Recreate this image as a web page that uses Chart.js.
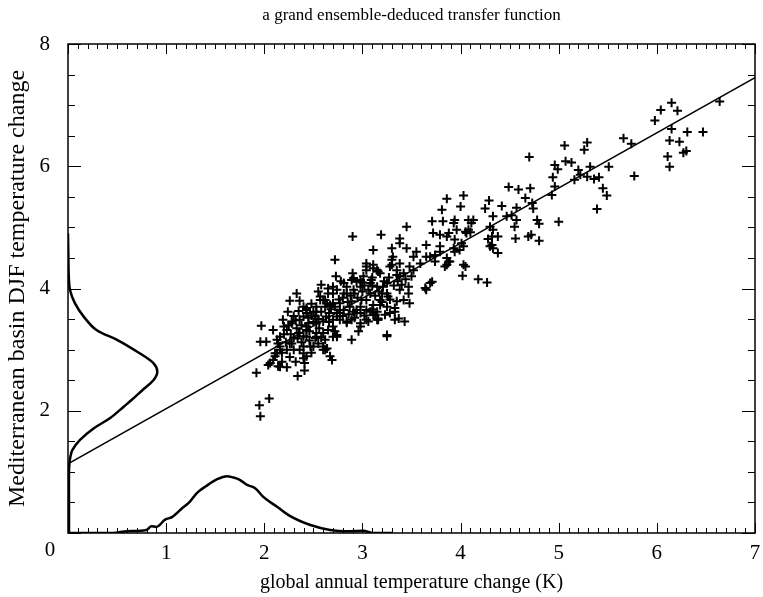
<!DOCTYPE html>
<html>
<head>
<meta charset="utf-8">
<script src="https://cdn.jsdelivr.net/npm/chart.js@4.4.1/dist/chart.umd.min.js"></script>
<style>
body { margin: 0; background: #fff; }
</style>
</head>
<body>
<canvas id="chart" width="763" height="597"></canvas>
<script>
// ensemble members: [global annual dT, Mediterranean DJF dT]
const ensembleMembers = [
    [6.64,7.06],[6.15,7.04],[6.04,6.92],[6.21,6.91],[5.98,6.75],[6.15,6.61],[6.31,6.56],[6.47,6.56],
    [6.13,6.42],[6.23,6.40],[6.27,6.22],[6.30,6.25],[6.11,6.16],[6.13,5.99],[5.66,6.46],[5.74,6.37],
    [5.77,5.84],[5.06,6.34],[5.29,6.39],[5.26,6.27],[4.70,6.15],[4.96,6.02],[4.99,5.95],[5.07,6.08],
    [5.13,6.06],[5.20,5.94],[5.32,5.99],[5.51,5.99],[5.22,5.86],[5.29,5.83],[5.36,5.79],[5.41,5.82],
    [5.16,5.78],[4.94,5.82],[4.96,5.67],[4.93,5.53],[5.45,5.64],[5.49,5.52],[5.39,5.30],[5.00,5.09],
    [4.49,5.66],[4.59,5.62],[4.71,5.64],[4.66,5.48],[4.73,5.40],[4.74,5.31],[4.78,5.12],[4.80,5.06],
    [4.72,4.88],[4.69,4.85],[4.80,4.78],[4.56,4.82],[4.57,5.12],[4.52,5.20],[4.47,5.18],[4.55,5.01],
    [4.57,5.32],[4.42,5.35],[4.25,5.31],[4.29,5.44],[4.03,5.52],[4.00,5.34],[4.33,5.18],[4.30,5.01],
    [4.32,4.85],[4.38,4.85],[4.28,4.81],[4.30,4.69],[4.33,4.66],[4.38,4.58],[4.08,5.12],[4.11,5.07],
    [4.05,4.93],[4.10,4.92],[3.94,5.12],[3.96,4.96],[3.94,4.80],[4.01,4.74],[3.93,4.66],[3.99,4.63],
    [4.03,4.39],[4.02,4.21],[4.18,4.15],[4.27,4.10],[3.89,4.44],[4.13,5.12],[4.08,4.96],[3.86,4.85],
    [3.88,4.44],[3.84,4.36],[4.33,4.96],[4.32,4.71],
    [3.86,5.47],[3.81,5.29],[3.45,5.01],[3.19,4.88],[2.90,4.85],[3.11,4.63],[2.72,4.47],[2.73,4.20],
    [2.58,4.06],[2.33,3.92],[2.26,3.80],[2.91,4.17],[3.38,4.82],[3.30,4.66],[3.71,5.10],[3.82,5.10],
    [3.72,4.91],[3.79,4.88],[3.65,4.71],[3.55,4.60],[3.69,4.52],[3.79,4.60],[3.94,4.60],[4.03,4.69],
    [4.05,4.36],[3.86,4.39],[3.74,4.44],[3.69,4.09],[3.64,4.01],[3.38,4.74],[3.45,4.66],[3.52,4.52],
    [3.48,4.36],[3.38,4.41],[3.31,4.52],[3.28,4.36],[3.38,4.20],[3.42,4.25],[3.47,4.03],[3.48,3.76],
    [3.38,3.98],[3.35,3.79],[3.25,4.09],[3.18,4.25],[3.11,4.33],[3.04,4.36],[3.01,4.20],[3.09,4.14],
    [3.15,4.03],[3.20,3.92],[2.98,4.03],[2.91,3.98],[2.81,4.09],[2.84,3.92],[2.74,3.98],[2.65,3.92],
    [2.57,3.81],[2.67,3.73],[2.77,3.76],[2.89,3.79],[3.04,3.81],[3.11,3.73],[3.25,3.70],[3.33,3.62],
    [3.43,3.46],[3.25,3.22],[3.16,3.49],[3.08,3.62],[2.98,3.60],[2.89,3.49],[2.98,3.38],[2.89,3.16],
    [2.81,3.65],[2.74,3.54],[2.84,3.44],[2.74,3.21],[2.69,2.83],[2.62,3.00],[2.53,3.27],[2.60,3.46],
    [2.52,3.54],[2.43,3.60],[2.40,3.70],[2.45,3.43],[2.36,3.49],[2.35,3.27],[2.43,3.21],[2.47,3.05],
    [2.40,2.94],[2.28,3.43],[2.23,3.32],[2.19,3.49],[2.16,3.21],[2.23,3.00],[2.14,3.10],[2.11,2.94],
    [2.09,3.32],[1.97,3.39],[1.96,3.13],[2.02,3.13],[2.04,2.75],[2.16,2.72],
    [1.96,1.91],[1.95,2.09],[2.05,2.20],[1.92,2.62],[2.34,2.57],[2.41,2.66],[3.25,3.24],[2.14,2.73],
    [2.23,2.71],[2.18,2.80],[2.09,2.83],[2.40,2.86],[2.41,2.78],[2.28,3.46],[2.13,3.16],[2.16,3.05],
    [2.13,2.94],[2.26,3.10],[2.30,3.00],[2.36,3.00],[2.43,2.89],[2.50,3.05],[2.60,3.00],[2.53,3.21],
    [2.62,3.16],[2.43,3.32],[2.40,3.54],[2.43,3.68],[2.53,3.43],[2.65,3.32],[2.74,3.24],[2.70,3.49],
    [2.77,3.60],[2.84,3.46],[2.98,3.43],[3.06,3.46],[3.15,3.49],[2.60,3.81],[2.70,3.92],[2.84,4.03],
    [2.53,3.62],[2.94,3.65],[3.15,3.62],
    [3.65,3.98],[3.71,4.11],[3.37,3.51],[3.47,3.92],[3.40,4.06],[3.35,4.22],[3.30,4.39],[3.52,4.30],
    [3.59,4.41],[3.65,4.52],[3.74,4.55],[3.79,4.69],[3.86,4.50],[4.06,4.91],[3.93,5.07],[3.88,4.91],
    [3.11,4.39],[3.04,4.30],[3.16,4.28],[2.98,4.14],[2.89,4.14],[3.08,4.09],[3.21,4.03],[3.26,3.87],
    [3.18,3.81],[3.08,3.92],[2.99,3.81],[2.81,3.92],[2.70,4.03],[2.62,3.81],[2.70,3.76],[2.77,3.65],
    [2.87,3.70],[2.94,3.60],[3.04,3.65],[3.13,3.57],[3.23,3.57],[3.33,3.68],[2.77,3.49],[2.70,3.38],
    [2.63,3.54],[2.60,3.27],[2.70,3.21],[2.60,3.05],[2.67,2.89],[3.16,3.51],[3.42,3.81],
    [2.06,2.78],[2.11,2.89],[2.16,3.00],[2.36,3.27],[2.43,3.38],[2.40,3.05],[2.52,3.19],[2.64,3.02],
    [2.43,3.65],[2.53,3.70],[2.57,3.87],[2.64,3.76],[2.74,3.60],[2.91,3.62],[3.04,3.49],[2.98,3.70],
    [3.11,3.57],[3.18,3.73],[3.28,3.60],[3.33,3.49],[3.25,3.92],[2.94,4.11],[3.04,4.41],[3.15,4.30],
    [3.30,4.47],[3.35,4.30],
    [2.30,3.20],[2.33,3.35],[2.38,3.12],[2.46,3.30],[2.50,3.45],[2.56,3.35],[2.30,3.55],[2.24,3.62],
    [2.48,3.56],[2.35,3.63],[2.20,3.38],[2.27,3.25],
    [2.20,3.25],[2.25,3.40],[2.32,3.48],[2.38,3.40],[2.45,3.52],[2.50,3.62],[2.55,3.50],[2.58,3.62],
    [2.62,3.70],[2.66,3.60],[2.68,3.66],[2.72,3.70],[2.76,3.82],[2.80,3.85],[2.85,3.78],[2.88,3.88],
    [2.92,3.92],[2.95,3.85],[3.00,3.95],[3.02,4.05],[3.06,3.98],[3.10,4.05],[3.13,3.88],[3.17,3.95],
    [3.22,4.12],[3.27,4.18],[3.32,4.05],[3.36,4.12],[3.44,4.15],[3.50,4.20],[2.28,3.10],[2.34,3.18],
    [2.40,3.22],[2.46,3.15],[2.55,3.10],[2.58,3.20],[2.66,3.45],[2.72,3.30],[2.80,3.55],[2.86,3.58],
    [2.92,3.52],[2.96,3.30],[3.02,3.56],[3.10,3.66],[3.20,3.78],[3.28,3.82],[2.22,3.12],[2.18,2.95],
    [2.26,2.88],[2.32,2.80],[2.48,2.95],[2.36,3.80],[2.48,3.75],[2.55,3.95],[2.65,4.00],[2.78,4.12],
    [2.90,4.25],[3.00,4.10],[3.10,4.18]
];

// regression line
const fitX = [0, 7];
const fitY = [1.13, 7.45];

// pdf of global annual warming (drawn along the x axis)
const pdfGlobalX = [0, 0.46, 0.6, 0.8, 0.85, 0.9, 0.99, 1.06, 1.16, 1.24, 1.31, 1.41, 1.52, 1.62, 1.68,
    1.75, 1.82, 1.91, 1.99, 2.13, 2.26, 2.47, 2.67, 2.87, 3.01, 3.11, 3.3];
const pdfGlobalY = [0, 0, 0.03, 0.05, 0.11, 0.10, 0.22, 0.26, 0.40, 0.51, 0.65, 0.77, 0.88, 0.93, 0.91,
    0.87, 0.79, 0.73, 0.59, 0.43, 0.28, 0.13, 0.05, 0.03, 0.035, 0, 0];

// pdf of Mediterranean DJF warming (drawn along the y axis)
const pdfMedT = [0, 0.5, 1.0, 1.14, 1.25, 1.36, 1.52, 1.71, 1.88, 2.07, 2.18, 2.34, 2.50, 2.64, 2.78,
    2.94, 3.16, 3.32, 3.54, 3.76, 3.98, 4.2, 4.5, 4.9];
const pdfMedDensity = [0.01, 0.01, 0.01, 0.015, 0.025, 0.045, 0.12, 0.26, 0.43, 0.57, 0.65, 0.76, 0.87, 0.91, 0.87,
    0.73, 0.50, 0.29, 0.16, 0.07, 0.02, 0.008, 0.004, 0];

const xTicks = [0, 1, 2, 3, 4, 5, 6, 7];
const yTicks = [0, 2, 4, 6, 8];

const serif = "'Liberation Serif', 'DejaVu Serif', serif";

function pairs(xs, ys) {
    return xs.map((x, i) => ({ x: x, y: ys[i] }));
}

// box, inner ticks on all four sides, and the shifted "0"
const frameTicks = {
    id: "frameTicks",
    afterDatasetsDraw(chart) {
        const ctx = chart.ctx;
        const a = chart.chartArea;
        const sx = chart.scales.x;
        const sy = chart.scales.y;
        ctx.save();
        ctx.strokeStyle = "#000";
        ctx.lineWidth = 1;
        ctx.beginPath();
        for (let i = 0; i <= 70; i++) {
            const px = Math.round(sx.getPixelForValue(i / 10)) + 0.5;
            const len = i % 10 === 0 ? 10 : 5;
            ctx.moveTo(px, a.bottom);
            ctx.lineTo(px, a.bottom - len);
            ctx.moveTo(px, a.top);
            ctx.lineTo(px, a.top + len);
        }
        for (let j = 0; j <= 16; j++) {
            const py = Math.round(sy.getPixelForValue(j / 2)) + 0.5;
            const len = j % 4 === 0 ? 13 : 7;
            ctx.moveTo(a.left, py);
            ctx.lineTo(a.left + len, py);
            ctx.moveTo(a.right, py);
            ctx.lineTo(a.right - len, py);
        }
        ctx.stroke();
        ctx.lineWidth = 1.5;
        ctx.strokeRect(a.left, a.top, a.right - a.left, a.bottom - a.top);
        ctx.fillStyle = "#000";
        ctx.font = "21px " + serif;
        ctx.textAlign = "center";
        ctx.textBaseline = "top";
        ctx.fillText("0", sx.getPixelForValue(xTicks[0]) - 18, a.bottom + 7);
        ctx.restore();
    }
};

new Chart(document.getElementById("chart"), {
    type: "scatter",
    data: {
        datasets: [
            {
                label: "members",
                data: ensembleMembers.map((p) => ({ x: p[0], y: p[1] })),
                pointStyle: "cross",
                pointRadius: 4.5,
                pointBorderWidth: 2,
                borderColor: "#000",
                backgroundColor: "#000",
            },
            {
                label: "fit",
                data: pairs(fitX, fitY),
                showLine: true,
                borderColor: "#000",
                borderWidth: 1.5,
                pointRadius: 0,
            },
            {
                label: "pdf global",
                data: pairs(pdfGlobalX, pdfGlobalY),
                showLine: true,
                borderColor: "#000",
                borderWidth: 2.5,
                pointRadius: 0,
                cubicInterpolationMode: "monotone",
            },
            {
                label: "pdf med",
                data: pairs(pdfMedDensity, pdfMedT),
                showLine: true,
                borderColor: "#000",
                borderWidth: 2.5,
                pointRadius: 0,
                tension: 0.35,
            },
        ],
    },
    options: {
        responsive: false,
        animation: false,
        layout: { padding: { top: 0, right: 8, bottom: 0, left: 0 } },
        plugins: {
            legend: { display: false },
            tooltip: { enabled: false },
            title: {
                display: true,
                fullSize: false,
                text: "a grand ensemble-deduced transfer function",
                color: "#000",
                font: { family: serif, size: 17, weight: "normal" },
                padding: { top: 5, bottom: 18.6 },
            },
        },
        scales: {
            x: {
                type: "linear",
                min: 0,
                max: 7,
                grid: { display: false },
                border: { display: false },
                ticks: {
                    stepSize: 1,
                    padding: 0,
                    color: "#000",
                    font: { family: serif, size: 21 },
                    callback: (v) => (v === xTicks[0] ? "" : v),
                },
                title: {
                    display: true,
                    text: "global annual temperature change (K)",
                    color: "#000",
                    font: { family: serif, size: 20 },
                    padding: { top: 0, bottom: 2 },
                },
                afterFit(scale) {
                    scale.height = 64;
                },
            },
            y: {
                type: "linear",
                min: 0,
                max: 8,
                grid: { display: false },
                border: { display: false },
                ticks: {
                    stepSize: 2,
                    padding: 10,
                    color: "#000",
                    font: { family: serif, size: 21 },
                    callback: (v) => (yTicks.includes(v) && v !== 0 ? v : ""),
                },
                title: {
                    display: true,
                    text: "Mediterranean basin DJF temperature change",
                    color: "#000",
                    font: { family: serif, size: 24 },
                    padding: { top: 3, bottom: 0 },
                },
                afterFit(scale) {
                    scale.width = 68;
                },
            },
        },
    },
    plugins: [frameTicks],
});
</script>
</body>
</html>
